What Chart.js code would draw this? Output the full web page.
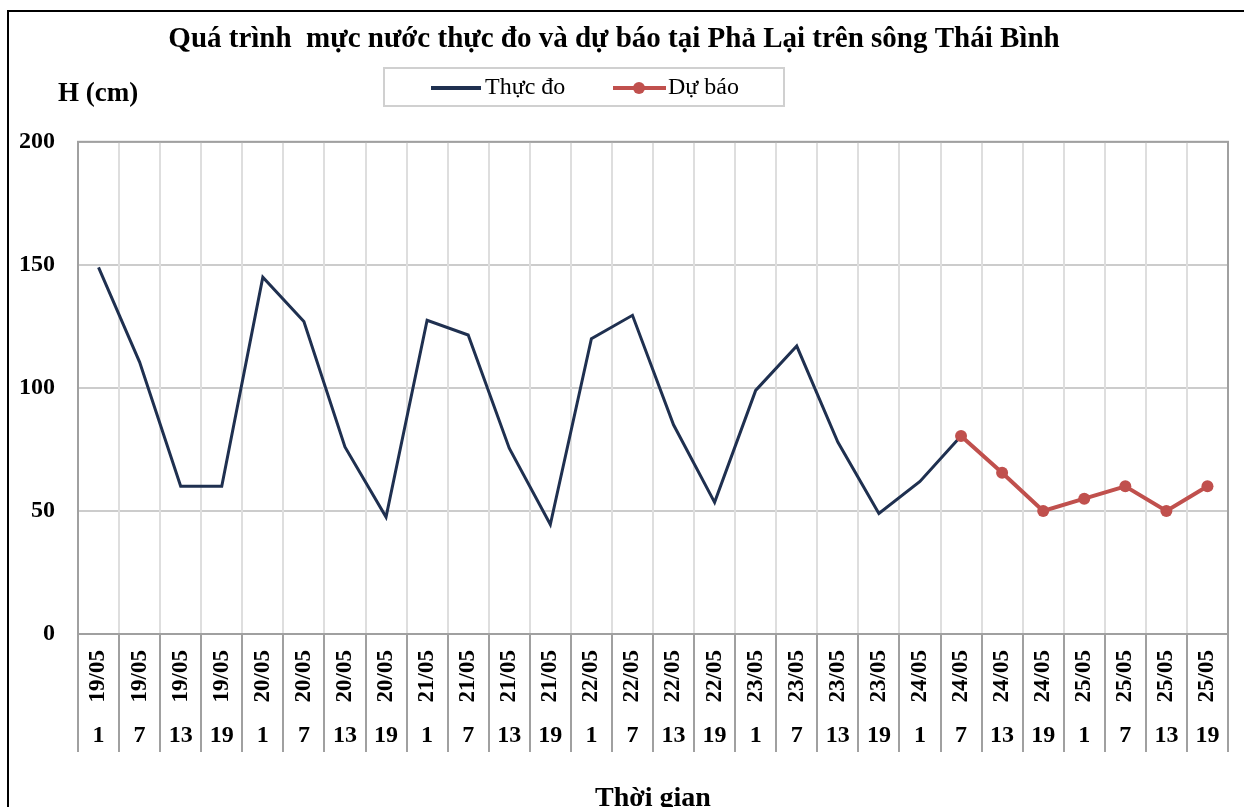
<!DOCTYPE html>
<html>
<head>
<meta charset="utf-8">
<script src="https://cdn.jsdelivr.net/npm/chart.js@4"></script>
<style>
  html, body { margin: 0; padding: 0; background: #fff; overflow: hidden; }
  #wrap { position: relative; width: 1244px; height: 807px; }
  #frame { position: absolute; left: 7px; top: 10px; width: 1300px; height: 900px; border-left: 2px solid #000; border-top: 2px solid #000; }
  #yTitle { position: absolute; left: 58px; top: 77px; font: bold 27px "Liberation Serif", serif; color: #000; }
  #legend { position: absolute; left: 383px; top: 67px; width: 398px; height: 36px; border: 2px solid #d0d0d0; font: 24px "Liberation Serif", serif; }
  .lg-line { position: absolute; height: 4px; }
  .lg-dot { position: absolute; width: 12px; height: 12px; border-radius: 50%; background: #c0504d; }
  .lg-text { position: absolute; top: 4px; }
</style>
</head>
<body>
<div id="wrap">
  <canvas id="chart" width="1244" height="807"></canvas>
  <div id="frame"></div>
  <div id="yTitle">H (cm)</div>
  <div id="legend">
    <div class="lg-line" style="left:46px; top:17px; width:50px; background:#1f3050;"></div>
    <div class="lg-text" style="left:100px;">Thực đo</div>
    <div class="lg-line" style="left:228px; top:17px; width:53px; background:#c0504d;"></div>
    <div class="lg-dot" style="left:248px; top:13px;"></div>
    <div class="lg-text" style="left:283px;">Dự báo</div>
  </div>
</div>
<script>
// Categories (date / hour)
var dates = ["19/05","19/05","19/05","19/05","20/05","20/05","20/05","20/05",
             "21/05","21/05","21/05","21/05","22/05","22/05","22/05","22/05",
             "23/05","23/05","23/05","23/05","24/05","24/05","24/05","24/05",
             "25/05","25/05","25/05","25/05"];
var hours = ["1","7","13","19","1","7","13","19","1","7","13","19","1","7","13","19",
             "1","7","13","19","1","7","13","19","1","7","13","19"];

// Water level (cm)
var thucDo = [149, 110.5, 60, 60, 145, 127, 76, 47.5, 127.5, 121.5, 75.5, 44.5,
              120, 129.5, 85, 53.5, 99, 117, 78, 49, 62, 80.5,
              null, null, null, null, null, null];
var duBao = [null, null, null, null, null, null, null, null, null, null, null, null,
             null, null, null, null, null, null, null, null, null, 80.5,
             65.5, 50, 55, 60, 50, 60];

var yTicks = [0, 50, 100, 150, 200];

var serif = '"Liberation Serif", "Times New Roman", serif';

// plot frame + separators under the date / hour labels
var framePlugin = {
  id: 'framePlugin',
  afterDraw: function(chart) {
    var ctx = chart.ctx;
    var a = chart.chartArea;
    var x = chart.scales.x;
    var n = dates.length;
    var step = (x.right - x.left) / n;
    ctx.save();
    ctx.strokeStyle = '#a0a0a0';
    ctx.lineWidth = 2;
    ctx.strokeRect(a.left, a.top, a.right - a.left, a.bottom - a.top);
    ctx.beginPath();
    for (var i = 0; i <= n; i++) {
      var px = Math.round(x.left + i * step);
      ctx.moveTo(px, a.bottom);
      ctx.lineTo(px, 752);
    }
    ctx.stroke();
    ctx.restore();
  }
};

var ctx = document.getElementById('chart').getContext('2d');
var chart = new Chart(ctx, {
  type: 'line',
  data: {
    labels: dates,
    datasets: [{
      label: 'Thực đo',
      data: thucDo,
      borderColor: '#1f3050',
      backgroundColor: '#1f3050',
      borderWidth: 3,
      pointRadius: 0,
      tension: 0,
      order: 1,
      xAxisID: 'x'
    }, {
      label: 'Dự báo',
      data: duBao,
      borderColor: '#c0504d',
      backgroundColor: '#c0504d',
      borderWidth: 4,
      pointRadius: 6,
      pointBorderWidth: 0,
      tension: 0,
      order: 0,
      xAxisID: 'x'
    }]
  },
  options: {
    responsive: false,
    animation: false,
    layout: { padding: { left: 0, right: 16, top: 0, bottom: 0 } },
    plugins: {
      legend: { display: false },
      tooltip: { enabled: false },
      title: {
        display: true,
        text: 'Quá trình  mực nước thực đo và dự báo tại Phả Lại trên sông Thái Bình',
        color: '#000',
        font: { family: serif, size: 29, weight: 'bold' },
        padding: { top: 22, bottom: 85 }
      }
    },
    scales: {
      y: {
        min: 0,
        max: 200,
        afterBuildTicks: function(s) { s.ticks = yTicks.map(function(v) { return { value: v }; }); },
        ticks: { color: '#000', font: { family: serif, size: 24, weight: 'bold' }, padding: 23 },
        grid: { color: '#cccccc', lineWidth: 2, drawTicks: false },
        border: { display: false },
        afterFit: function(s) { s.width = 78; }
      },
      x: {
        type: 'category',
        offset: true,
        ticks: {
          color: '#000', autoSkip: false, minRotation: 90, maxRotation: 90,
          font: { family: serif, size: 23, weight: 'bold' }, padding: 16
        },
        grid: { offset: true, color: '#dedede', lineWidth: 2, drawTicks: false },
        border: { display: false },
        afterFit: function(s) { s.height = 80; s.paddingLeft = 0; s.paddingRight = 0; }
      },
      x2: {
        type: 'category',
        position: 'bottom',
        labels: hours,
        offset: true,
        weight: 1,
        ticks: {
          color: '#000', autoSkip: false, maxRotation: 0,
          font: { family: serif, size: 24, weight: 'bold' }, padding: 7
        },
        grid: { display: false, drawTicks: false },
        border: { display: false },
        title: {
          display: true, text: 'Thời gian', color: '#000',
          font: { family: serif, size: 28, weight: 'bold', lineHeight: 1 },
          padding: { top: 0, bottom: -6 }
        },
        afterFit: function(s) { s.height = 93; s.paddingLeft = 0; s.paddingRight = 0; }
      }
    }
  },
  plugins: [framePlugin]
});
</script>
</body>
</html>
